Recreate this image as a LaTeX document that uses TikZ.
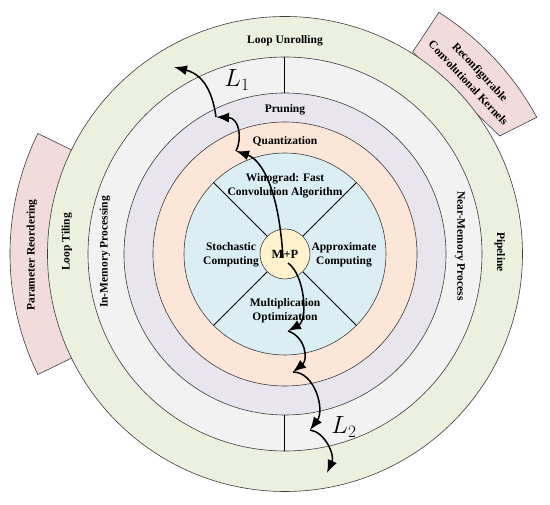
\documentclass[tikz,border=0pt]{standalone}
\usepackage{fontspec}
\setmainfont{Liberation Serif}
\usetikzlibrary{arrows.meta}
\definecolor{cgreen}{RGB}{235,241,222}
\definecolor{cgrey}{RGB}{242,242,242}
\definecolor{clav}{RGB}{232,229,239}
\definecolor{cpeach}{RGB}{252,230,215}
\definecolor{cblue}{RGB}{218,238,243}
\definecolor{cyel}{RGB}{255,242,204}
\definecolor{cpink}{RGB}{242,220,219}
\definecolor{cline}{RGB}{60,60,60}
\begin{document}
\begin{tikzpicture}[x=1pt,y=1pt,
  ring/.style={draw=cline,line width=0.6pt},
  pinkbox/.style={fill=cpink,draw=cline,line width=0.6pt},
  lbl/.style={font=\fontsize{11.5}{14}\selectfont\bfseries,align=center,inner sep=0pt},
  sep/.style={draw=black,line width=1pt},
  flow/.style={line width=1.5pt,-{Latex[length=13pt,width=10pt]}},
  lmath/.style={font=\fontsize{25}{27}\selectfont,inner sep=0pt}]
\useasboundingbox (-285,-251) rectangle (265,254);
% side boxes
\path[pinkbox] (154:275) arc[start angle=154,end angle=206,radius=275] -- (206:234) arc[start angle=206,end angle=154,radius=234] -- cycle;
\path[pinkbox] (57.5:286.5) arc[start angle=57.5,end angle=28.5,radius=286.5] -- (28.8:245) -- (57.7:239) -- cycle;
% rings
\path[ring,fill=cgreen] (0,0) circle[radius=237.5];
\path[ring,fill=cgrey] (0,0) circle[radius=197];
\path[ring,fill=clav] (0,0) circle[radius=161];
\path[ring,fill=cpeach] (0,0) circle[radius=132];
\path[ring,fill=cblue] (0,0) circle[radius=101];
% separators
\foreach \a in {45,135,225,315} \draw[sep] (\a:25) -- (\a:101);
\draw[sep] (90:161) -- (90:197);
\draw[sep] (270:161) -- (270:197);
\node[ring,fill=cyel,circle,minimum size=50pt,inner sep=0pt,font=\fontsize{12.5}{14}\selectfont\bfseries] (mp) at (0,0) {M+P};
% labels
\node[lbl] (lu) at (0,213) {Loop Unrolling};
\node[lbl] (pr) at (0,144) {Pruning};
\node[lbl] (qu) at (0,113) {Quantization};
\node[lbl] (wi) at (0,68.5) {Winograd: Fast\\Convolution Algorithm};
\node[lbl] (sc) at (-54,-1) {Stochastic\\Computing};
\node[lbl] (ac) at (59,-1) {Approximate\\Computing};
\node[lbl] (mo) at (0,-57) {Multiplication\\Optimization};
\node[lbl,rotate=90] (lt) at (-218,12) {Loop Tiling};
\node[lbl,rotate=90] (prr) at (-253,-1) {Parameter Reordering};
\node[lbl,rotate=90] (imp) at (-180,2) {In-Memory Processing};
\node[lbl,rotate=-90] (nmp) at (175,8) {Near-Memory Process};
\node[lbl,rotate=-90] (pl) at (215,2) {Pipeline};
\node[lbl,rotate=-47,font=\fontsize{11.5}{16}\selectfont\bfseries] (rck) at (43:259) {Reconfigurable\\Convolutional Kernels};
% L1 path
\coordinate (a0) at (-2,-4);
\coordinate (a1) at (-49,103);
\coordinate (a2) at (-69,137);
\coordinate (a3) at (-111,187);
\draw[flow] (a0) .. controls (-6,64) and (-23,94) .. (a1);
\draw[flow] (a1) .. controls (-43,114) and (-45,136) .. (a2);
\draw[flow] (a2) .. controls (-72,159) and (-80,179) .. (a3);
\node[lmath] (l1) at (-48,174) {$L_1$};
% L2 path
\coordinate (b0) at (3,-9);
\coordinate (b1) at (3,-77);
\coordinate (b2) at (8,-118);
\coordinate (b3) at (25,-176);
\coordinate (b4) at (42,-219);
\draw[flow] (b0) .. controls (20,-21) and (23,-66) .. (b1);
\draw[flow] (b1) .. controls (21,-83) and (23,-106) .. (b2);
\draw[flow] (b2) .. controls (30,-118) and (40,-156) .. (b3);
\draw[flow] (b3) .. controls (40,-178) and (50,-201) .. (b4);
\node[lmath] (l2) at (59,-173) {$L_2$};
\end{tikzpicture}
\end{document}
